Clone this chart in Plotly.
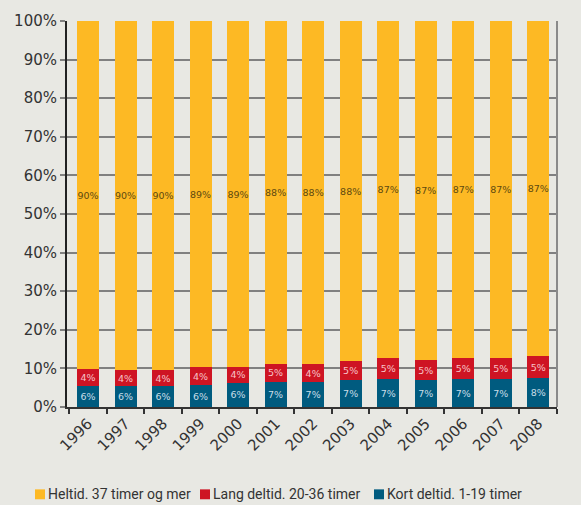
import plotly.graph_objects as go

years = ["1996", "1997", "1998", "1999", "2000", "2001", "2002",
         "2003", "2004", "2005", "2006", "2007", "2008"]
kort = [5.5, 5.5, 5.5, 5.7, 6.3, 6.6, 6.5, 7.0, 7.2, 7.0, 7.2, 7.2, 7.5]
lang = [4.3, 4.0, 4.0, 4.6, 4.0, 4.5, 4.6, 4.8, 5.4, 5.1, 5.4, 5.4, 5.6]
heltid = [round(100 - k - l, 1) for k, l in zip(kort, lang)]

kort_labels = ["6%", "6%", "6%", "6%", "6%", "7%", "7%", "7%", "7%", "7%", "7%", "7%", "8%"]
lang_labels = ["4%", "4%", "4%", "4%", "4%", "5%", "4%", "5%", "5%", "5%", "5%", "5%", "5%"]
heltid_labels = ["90%", "90%", "90%", "89%", "89%", "88%", "88%", "88%", "87%", "87%", "87%", "87%", "87%"]

names = ["Heltid. 37 timer og mer", "Lang deltid. 20-36 timer", "Kort deltid. 1-19 timer"]
colors = {"heltid": "#FDB924", "lang": "#CE1423", "kort": "#005B7F"}
bg = "#E8E8E3"
font_main = "DejaVu Sans"
font_legend = "Roboto"

fig = go.Figure()
series = [
    (kort, kort_labels, names[2], colors["kort"], "#C9DEE8"),
    (lang, lang_labels, names[1], colors["lang"], "#F6C3C8"),
    (heltid, heltid_labels, names[0], colors["heltid"], "#5E4A10"),
]
for vals, labels, name, col, tcol in series:
    fig.add_trace(go.Bar(
        x=years, y=vals, name=name, marker=dict(color=col, line=dict(width=0)),
        text=labels, texttemplate="%{text}", textposition="inside",
        insidetextanchor="middle", textangle=0, constraintext="none",
        textfont=dict(family=font_main, size=9.5, color=tcol),
        showlegend=False, hoverinfo="skip",
    ))

fig.update_layout(
    width=581, height=505,
    margin=dict(l=67, r=24, t=18, b=98),
    paper_bgcolor=bg, plot_bgcolor=bg,
    barmode="stack", bargap=0.413,
    font=dict(family=font_main, color="#333333"),
    xaxis=dict(
        type="category", range=[-0.56, 12.5],
        tickangle=-45, tickfont=dict(size=15, color="#333333"),
        ticks="outside", tickson="boundaries", ticklen=5, tickwidth=1.5, tickcolor="#333333",
        showline=True, linecolor="#333333", linewidth=2, showgrid=False,
    ),
    yaxis=dict(
        range=[0, 100], dtick=10, ticksuffix="%",
        tickfont=dict(size=15, color="#333333"),
        ticks="outside", ticklen=5, tickwidth=1.5, tickcolor="#808080",
        showgrid=True, gridcolor="#808080", gridwidth=1.5,
        showline=True, linecolor="#222222", linewidth=2, zeroline=False,
    ),
)

# right border line
fig.add_shape(type="line", xref="paper", yref="paper", x0=1, x1=1, y0=0, y1=1,
              line=dict(color="#8a8a8a", width=2))

# manual legend
leg_x_px = [35, 200, 374]
leg_y_px = 495
def px_to_paper_x(px):
    return (px - 67) / 490
def px_to_paper_y(py):
    return (407 - py) / 389
leg_items = [(names[0], colors["heltid"]), (names[1], colors["lang"]), (names[2], colors["kort"])]
for (name, col), lx in zip(leg_items, leg_x_px):
    fig.add_shape(type="rect", xref="paper", yref="paper",
                  x0=px_to_paper_x(lx), x1=px_to_paper_x(lx + 10),
                  y0=px_to_paper_y(leg_y_px + 5), y1=px_to_paper_y(leg_y_px - 5),
                  fillcolor=col, line=dict(width=0))
    fig.add_annotation(xref="paper", yref="paper", x=px_to_paper_x(lx + 11), y=px_to_paper_y(leg_y_px),
                       text=name, showarrow=False, xanchor="left", yanchor="middle",
                       font=dict(family=font_legend, size=14, color="#333333"))

fig.write_html("out.html", config={"displayModeBar": False},
               post_script="document.body.style.margin='0';document.body.style.background='" + bg + "';")
